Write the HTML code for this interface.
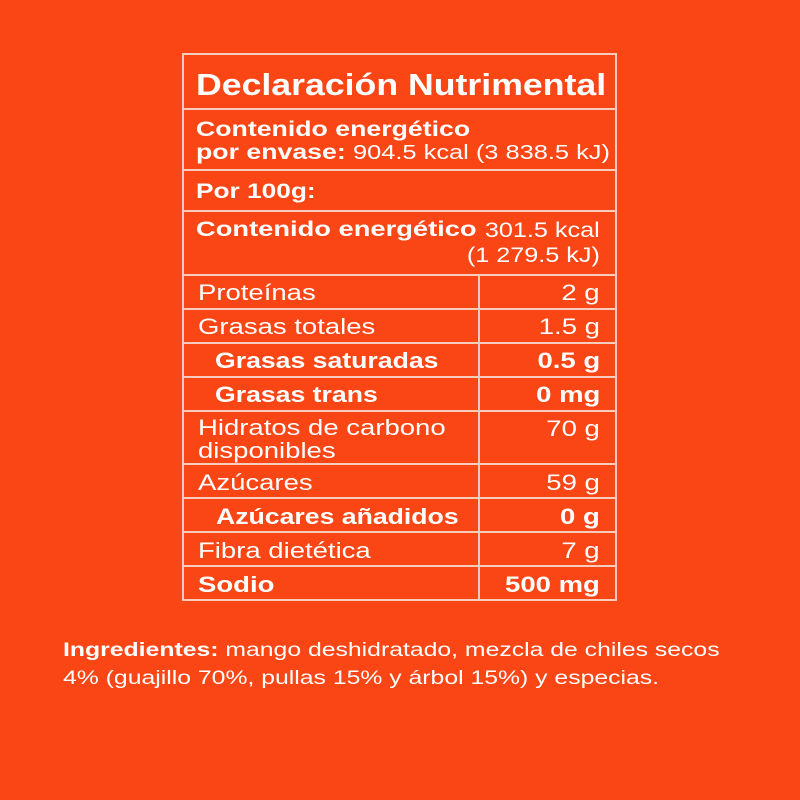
<!DOCTYPE html>
<html><head><meta charset="utf-8"><style>
body{margin:0;width:800px;height:800px;background:#fa4515;position:relative;overflow:hidden;font-family:"Liberation Sans",sans-serif;color:#fff}
.h{position:absolute;left:182px;width:435px;height:2px;background:#f6cdbd}
.v{position:absolute;width:2px;background:#f6cdbd}
.t{position:absolute;white-space:nowrap;line-height:1;transform:scaleX(1.25);transform-origin:left top}
.b{font-weight:bold}
.r{text-align:right;right:200px;transform-origin:right top}
</style></head><body>
<div class="h" style="top:53px"></div>
<div class="h" style="top:108px"></div>
<div class="h" style="top:169px"></div>
<div class="h" style="top:210px"></div>
<div class="h" style="top:274px"></div>
<div class="h" style="top:308px"></div>
<div class="h" style="top:342px"></div>
<div class="h" style="top:376px"></div>
<div class="h" style="top:410px"></div>
<div class="h" style="top:463px"></div>
<div class="h" style="top:497px"></div>
<div class="h" style="top:531px"></div>
<div class="h" style="top:565px"></div>
<div class="h" style="top:599px"></div>
<div class="v" style="left:182px;top:53px;height:548px"></div>
<div class="v" style="left:615px;top:53px;height:548px"></div>
<div class="v" style="left:478px;top:274px;height:327px"></div>

<div class="t b" style="left:196px;top:69px;font-size:31px;transform:scaleX(1.15)">Declaración Nutrimental</div>
<div class="t b" style="left:196px;top:119px;font-size:21px;transform:scaleX(1.27)">Contenido energético</div>
<div class="t b" style="left:196px;top:142px;font-size:21px;transform:scaleX(1.27)">por envase:</div>
<div class="t" style="left:353px;top:143px;font-size:20px;transform:scaleX(1.27)">904.5 kcal (3 838.5 kJ)</div>
<div class="t b" style="left:196px;top:181px;font-size:21px;transform:scaleX(1.25)">Por 100g:</div>
<div class="t b" style="left:196px;top:219px;font-size:21px;transform:scaleX(1.3)">Contenido energético</div>
<div class="t r" style="top:220px;font-size:21px;transform:scaleX(1.2)">301.5 kcal</div>
<div class="t r" style="top:245px;font-size:21px;transform:scaleX(1.2)">(1 279.5 kJ)</div>

<div class="t" style="left:198px;top:282px;font-size:22px">Proteínas</div><div class="t r" style="top:282px;font-size:22px">2 g</div>
<div class="t" style="left:198px;top:316px;font-size:22px">Grasas totales</div><div class="t r" style="top:316px;font-size:22px">1.5 g</div>
<div class="t b" style="left:215px;top:350px;font-size:22px;transform:scaleX(1.21)">Grasas saturadas</div><div class="t b r" style="top:350px;font-size:22px">0.5 g</div>
<div class="t b" style="left:215px;top:384px;font-size:22px;transform:scaleX(1.21)">Grasas trans</div><div class="t b r" style="top:384px;font-size:22px">0 mg</div>
<div class="t" style="left:198px;top:416px;font-size:22px;line-height:23px">Hidratos de carbono<br>disponibles</div><div class="t r" style="top:418px;font-size:22px">70 g</div>
<div class="t" style="left:198px;top:472px;font-size:22px">Azúcares</div><div class="t r" style="top:472px;font-size:22px">59 g</div>
<div class="t b" style="left:216px;top:506px;font-size:22px;transform:scaleX(1.21)">Azúcares añadidos</div><div class="t b r" style="top:506px;font-size:22px">0 g</div>
<div class="t" style="left:198px;top:540px;font-size:22px">Fibra dietética</div><div class="t r" style="top:540px;font-size:22px">7 g</div>
<div class="t b" style="left:198px;top:574px;font-size:22px">Sodio</div><div class="t b r" style="top:574px;font-size:22px">500 mg</div>

<div class="t" style="left:63px;top:636px;font-size:19.5px;line-height:28px;transform:scaleX(1.27)"><b>Ingredientes:</b> mango deshidratado, mezcla de chiles secos<br>4% (guajillo 70%, pullas 15% y árbol 15%) y especias.</div>
</body></html>
